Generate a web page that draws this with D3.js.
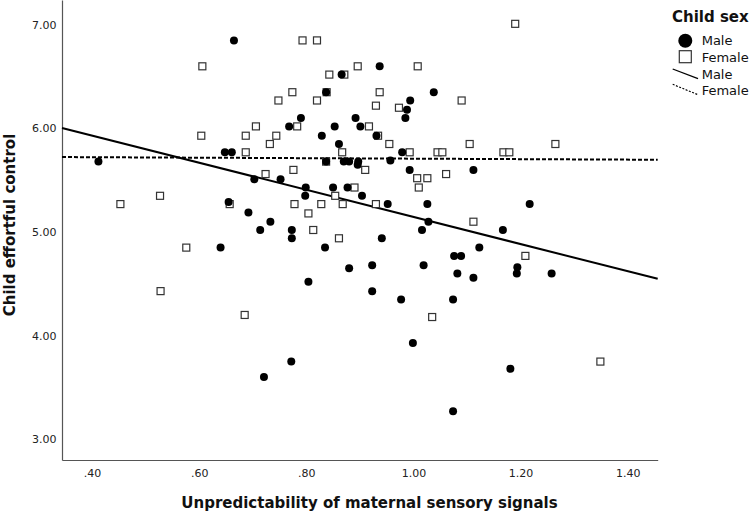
<!DOCTYPE html>
<html><head><meta charset="utf-8">
<script src="https://cdn.jsdelivr.net/npm/d3@7"></script>
<style>body{margin:0;background:#fff}svg{display:block}</style>
</head><body>
<svg id="c" width="752" height="513"></svg>
<script>
const maleX=[0.412,0.665,0.648,0.661,0.655,0.692,0.640,0.703,0.937,0.866,0.837,1.038,0.994,0.988,0.790,0.892,0.985,0.768,0.853,0.901,0.829,0.931,0.861,0.979,0.837,0.870,0.880,0.897,0.896,0.957,0.993,1.112,0.752,0.799,0.850,0.877,0.798,0.904,0.952,1.026,1.217,0.733,1.028,0.714,0.773,1.016,1.167,0.773,0.941,0.835,1.123,1.076,1.089,1.194,1.193,1.258,1.112,1.082,0.880,0.923,1.019,0.804,0.923,0.977,1.074,0.999,0.772,0.721,1.074,1.181];
const maleY=[5.68,6.85,5.77,5.77,5.29,5.19,4.85,5.51,6.60,6.52,6.35,6.35,6.27,6.18,6.10,6.10,6.10,6.02,6.02,6.02,5.93,5.93,5.85,5.77,5.68,5.68,5.68,5.68,5.65,5.69,5.60,5.60,5.51,5.43,5.43,5.43,5.35,5.35,5.27,5.27,5.27,5.10,5.10,5.02,5.02,5.02,5.02,4.94,4.94,4.85,4.85,4.77,4.77,4.66,4.60,4.60,4.56,4.60,4.65,4.68,4.68,4.52,4.43,4.35,4.35,3.93,3.75,3.60,3.27,3.68];
const femaleX=[0.453,0.527,0.576,0.528,0.685,0.606,0.604,0.687,0.687,0.706,0.657,0.793,0.820,0.896,1.008,0.843,0.871,0.774,0.838,0.937,0.748,0.820,1.090,0.930,0.973,0.783,0.917,0.744,0.934,0.732,0.955,1.105,0.867,0.993,1.045,1.054,0.837,0.910,0.776,0.724,1.061,1.007,1.026,1.010,0.890,0.854,0.778,0.828,0.868,0.930,0.804,0.813,0.861,1.112,1.190,1.168,1.179,1.265,1.209,1.349,1.035];
const femaleY=[5.27,5.35,4.85,4.43,4.20,6.60,5.93,5.93,5.77,6.02,5.27,6.85,6.85,6.60,6.60,6.52,6.52,6.35,6.35,6.35,6.27,6.27,6.27,6.22,6.20,6.02,6.02,5.93,5.93,5.85,5.85,5.85,5.77,5.77,5.77,5.77,5.68,5.60,5.60,5.56,5.56,5.52,5.52,5.43,5.43,5.35,5.27,5.27,5.27,5.27,5.18,5.02,4.94,5.10,7.01,5.77,5.77,5.85,4.77,3.75,4.18];
const xTicks=[0.4,0.6,0.8,1.0,1.2,1.4];
const yTicks=[3,4,5,6,7];
const fitMale={intercept:6.455,slope:-1.309};
const fitFemale={intercept:5.732,slope:-0.0234};
const xDomain=[0.344,1.456];
const yDomain=[2.8,7.24];
const legendItems=["Male","Female","Male","Female"];

const svg=d3.select('#c');
const font='DejaVu Sans';
const x=d3.scaleLinear().domain(xDomain).range([62,657.7]);
const y=d3.scaleLinear().domain(yDomain).range([460,0]);
const fmt=d=>d3.format('.2f')(d).replace(/^0/,'');

const xa=svg.append('g').attr('transform','translate(0,460)')
  .call(d3.axisBottom(x).tickValues(xTicks).tickFormat(fmt).tickSize(0).tickSizeOuter(0).tickPadding(9.5));
const ya=svg.append('g').attr('transform','translate(62,0)')
  .call(d3.axisLeft(y).tickValues(yTicks).tickFormat(fmt).tickSize(0).tickSizeOuter(0).tickPadding(5.5));
[xa,ya].forEach(a=>{
  a.select('.domain').attr('stroke','#555').attr('stroke-width',1.2);
  a.selectAll('text').attr('font-family',font).attr('font-size',11).attr('fill','#222');
});

// regression lines
const line=d3.line().x(d=>x(d[0])).y(d=>y(d[1]));
const fitPts=f=>xDomain.map(v=>[v,f.intercept+f.slope*v]);
svg.append('path').attr('d',line(fitPts(fitFemale))).attr('fill','none').attr('stroke','#000').attr('stroke-width',2).attr('stroke-dasharray','4,2');
svg.append('path').attr('d',line(fitPts(fitMale))).attr('fill','none').attr('stroke','#000').attr('stroke-width',2);

// points
const fem=femaleX.map((v,i)=>[v,femaleY[i]]);
const mal=maleX.map((v,i)=>[v,maleY[i]]);
const s=7;
svg.append('g').selectAll('rect').data(fem).join('rect')
  .attr('x',d=>x(d[0])-s/2).attr('y',d=>y(d[1])-s/2).attr('width',s).attr('height',s)
  .attr('fill','#fff').attr('stroke','#333').attr('stroke-width',1.2);
svg.append('g').selectAll('circle').data(mal).join('circle')
  .attr('cx',d=>x(d[0])).attr('cy',d=>y(d[1])).attr('r',4).attr('fill','#000');

// axis titles
svg.append('text').attr('x',369.5).attr('y',508).attr('text-anchor','middle')
  .attr('font-family',font).attr('font-weight','bold').attr('font-size',15).attr('fill','#111')
  .text('Unpredictability of maternal sensory signals');
svg.append('text').attr('transform','translate(15,225) rotate(-90)').attr('text-anchor','middle')
  .attr('font-family',font).attr('font-weight','bold').attr('font-size',15).attr('fill','#111')
  .text('Child effortful control');

// legend
const lg=svg.append('g');
lg.append('text').attr('x',672).attr('y',22).attr('font-family',font).attr('font-weight','bold').attr('font-size',15).attr('fill','#111').text('Child sex');
lg.append('circle').attr('cx',685.3).attr('cy',40.7).attr('r',7).attr('fill','#000');
lg.append('rect').attr('x',679.3).attr('y',50.7).attr('width',12).attr('height',12).attr('fill','#fff').attr('stroke','#333').attr('stroke-width',1.2);
lg.append('line').attr('x1',672.7).attr('y1',69).attr('x2',698).attr('y2',78.7).attr('stroke','#000').attr('stroke-width',1.3);
lg.append('line').attr('x1',672.7).attr('y1',84.3).attr('x2',697.5).attr('y2',94.5).attr('stroke','#000').attr('stroke-width',1.1).attr('stroke-dasharray','2,1.5');
const ly=[40.7,57,74,90.5];
lg.selectAll('text.it').data(legendItems).join('text').attr('class','it')
  .attr('x',701.7).attr('y',(d,i)=>ly[i]).attr('dy','0.36em')
  .attr('font-family',font).attr('font-size',13).attr('fill','#111').text(d=>d);
</script>
</body></html>
